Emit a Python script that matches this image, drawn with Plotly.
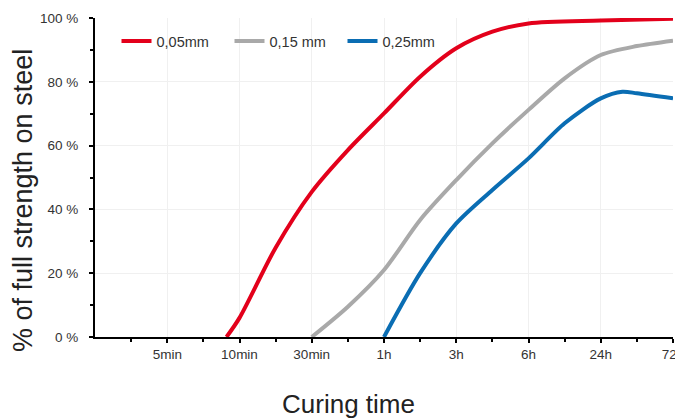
import plotly.graph_objects as go

tick_labels = ["5min", "10min", "30min", "1h", "3h", "6h", "24h", "72h"]
tick_pos = [1, 2, 3, 4, 5, 6, 7, 8]
y_ticks = [0, 20, 40, 60, 80, 100]
y_tick_text = ["0 %", "20 %", "40 %", "60 %", "80 %", "100 %"]

# x positions are in category-index units (1 = 5min ... 8 = 72h)
x_005 = [1.82, 2.0, 2.5, 3.0, 3.5, 4.0, 4.5, 5.0, 5.5, 6.0, 7.0, 8.0]
y_005 = [0, 6, 28, 45.5, 58.6, 70.1, 81.6, 90.5, 95.7, 98.3, 99.2, 99.8]

x_015 = [3.0, 3.5, 4.0, 4.5, 5.0, 5.5, 6.0, 6.5, 7.0, 7.5, 8.0]
y_015 = [0, 9.5, 21, 36.7, 49.2, 60.7, 71.2, 81.1, 88.4, 91.2, 92.9]

x_025 = [4.0, 4.5, 5.0, 5.5, 6.0, 6.5, 7.0, 7.3, 7.5, 8.0]
y_025 = [0, 20, 35.6, 46.1, 56, 67, 74.8, 76.9, 76.4, 74.8]

series = [
    ("0,05mm", x_005, y_005, "#e3001b"),
    ("0,15 mm", x_015, y_015, "#a9a9a9"),
    ("0,25mm", x_025, y_025, "#0a6db3"),
]

FONT = "Liberation Sans, Arial, Helvetica, sans-serif"
OFF = 8  # page body offset of the figure inside the window
W, H = 683 - OFF, 419 - OFF
# plot area in window pixels: x 95..673, y 18..337
L, T = 95 - OFF, 18 - OFF
R, B = W - (673 - OFF), H - (337 - OFF)
PW, PH = W - L - R, H - T - B


def px(xw):
    return (xw - 95) / PW


def py(yw):
    return (337 - yw) / PH


fig = go.Figure()
for name, xs, ys, col in series:
    fig.add_trace(go.Scatter(
        x=xs, y=ys, name=name, mode="lines",
        line=dict(color=col, width=4, shape="spline", smoothing=0.8),
        hoverinfo="skip",
    ))

common_x = dict(range=[0, 8], showline=True, linecolor="black", linewidth=2,
                tickvals=tick_pos, ticklen=4, tickwidth=2, tickcolor="black",
                zeroline=False, automargin=False)
common_y = dict(range=[0, 100], showline=True, linecolor="black", linewidth=2,
                tickvals=y_ticks, ticklen=4, tickwidth=2, tickcolor="black",
                zeroline=False, automargin=False)

fig.update_layout(
    width=W, height=H,
    margin=dict(l=L, r=R, t=T, b=B, autoexpand=False),
    paper_bgcolor="white", plot_bgcolor="white",
    font=dict(family=FONT, color="#333333", size=14),
    showlegend=True,
    legend=dict(orientation="h", x=px(116.5), y=py(41),
                xanchor="left", yanchor="middle",
                bgcolor="rgba(0,0,0,0)", font=dict(size=14.5, color="#333333"),
                itemwidth=30, entrywidth=68, entrywidthmode="pixels"),
    xaxis=dict(**common_x, ticktext=tick_labels, ticks="outside",
               showgrid=True, gridcolor="#f0f0f0", gridwidth=1,
               ticklabeloverflow="allow",
               tickfont=dict(size=13.5, color="#333333"),
               minor=dict(tickvals=[0.5, 1.5, 2.5, 3.5, 4.5, 5.5, 6.5, 7.5],
                          ticks="outside", ticklen=3, tickwidth=2, tickcolor="black",
                          showgrid=False)),
    yaxis=dict(**common_y, ticktext=y_tick_text, ticks="outside",
               showgrid=True, gridcolor="#f0f0f0", gridwidth=1,
               tickfont=dict(size=13.5, color="#333333"), ticklabelstandoff=8,
               minor=dict(tickvals=[10, 30, 50, 70, 90],
                          ticks="outside", ticklen=3, tickwidth=2, tickcolor="black",
                          showgrid=False)),
    xaxis2=dict(**common_x, overlaying="x", anchor="y", side="bottom", ticks="inside",
                showticklabels=False, showgrid=False,
                minor=dict(tickvals=[0.5, 1.5, 2.5, 3.5, 4.5, 5.5, 6.5, 7.5],
                           ticks="inside", ticklen=3, tickwidth=2, tickcolor="black")),
    yaxis2=dict(**common_y, overlaying="y", anchor="x", side="left", ticks="inside",
                showticklabels=False, showgrid=False,
                minor=dict(tickvals=[10, 30, 50, 70, 90],
                           ticks="inside", ticklen=3, tickwidth=2, tickcolor="black")),
    annotations=[
        dict(text="Curing time", xref="paper", yref="paper",
             x=px(348), y=py(404),
             xanchor="center", yanchor="middle", showarrow=False,
             font=dict(size=26, color="#222222")),
        dict(text="% of full strength on steel", xref="paper", yref="paper",
             x=px(23), y=py(201), textangle=-90,
             xanchor="center", yanchor="middle", showarrow=False,
             font=dict(size=27, color="#222222")),
    ],
)

fig.write_html("out.html")
